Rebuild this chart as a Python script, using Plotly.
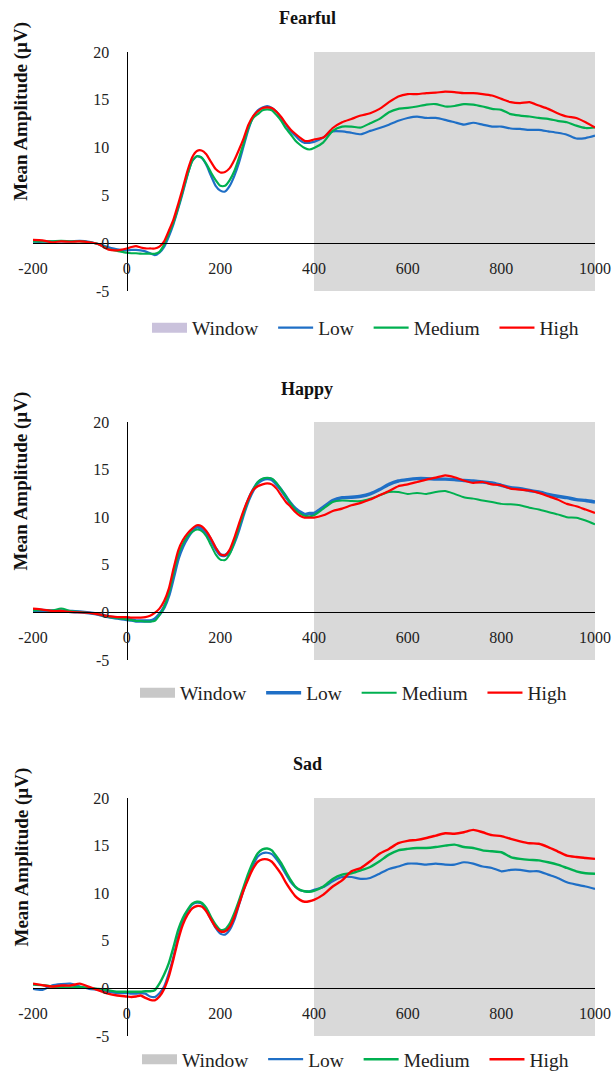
import plotly.graph_objects as go

# ---------------- data ----------------
time_ms = [-200, -180, -160, -140, -120, -100, -80, -60, -40, -20] + list(range(0, 401, 10)) + list(range(420, 1001, 20))

series_names = ["Low", "Medium", "High"]
panel_titles = ["Fearful", "Happy", "Sad"]
x_ticks = [-200, 0, 200, 400, 600, 800, 1000]
x_tick_labels = ["-200", "0", "200", "400", "600", "800", "1000"]
y_ticks = [-5, 0, 5, 10, 15, 20]
y_tick_labels = ["-5", "0", "5", "10", "15", "20"]
window_range = [400, 1000]

fearful_high = [0.35, 0.3, 0.1, 0.2, 0.15, 0.2, 0.1, -0.1, -0.65, -0.75,
                -0.55, -0.4, -0.3, -0.45, -0.55, -0.55, -0.55, -0.35, 0.2, 1.3,
                2.5, 4.1, 5.8, 7.6, 9.0, 9.65, 9.7, 9.3, 8.5, 7.75,
                7.4, 7.45, 7.85, 8.7, 9.8, 11.0, 12.4, 13.3, 13.8, 14.15,
                14.2, 14.15, 13.75, 13.2, 12.5, 11.9, 11.45, 11.05, 10.7, 10.7,
                10.85,
                11.05, 12.05, 12.65, 13.0, 13.35, 13.6, 14.05, 14.75, 15.35, 15.6,
                15.6, 15.7, 15.75, 15.85, 15.8, 15.7, 15.7, 15.6, 15.45, 15.1,
                14.75, 14.65, 14.75, 14.4, 14.05, 13.6, 13.25, 13.1, 12.65, 12.1]
fearful_medium = [0.2, 0.2, 0.2, 0.25, 0.2, 0.2, 0.1, -0.1, -0.6, -0.8,
                  -1.0, -1.05, -1.05, -1.1, -1.1, -1.1, -1.1, -0.9, -0.15, 1.0,
                  2.2, 3.75, 5.5, 7.2, 8.6, 9.1, 8.95, 8.3, 7.4, 6.6,
                  6.0, 6.0, 6.6, 7.55, 8.95, 10.5, 12.1, 13.1, 13.5, 13.9,
                  14.0, 13.9, 13.4, 12.8, 12.0, 11.4, 10.75, 10.3, 9.95, 9.8,
                  9.95,
                  10.55, 11.75, 12.2, 12.2, 12.1, 12.55, 13.0, 13.7, 14.05, 14.15,
                  14.3, 14.5, 14.55, 14.3, 14.35, 14.55, 14.5, 14.3, 14.05, 13.95,
                  13.5, 13.35, 13.25, 13.1, 13.0, 12.8, 12.65, 12.3, 12.05, 12.1]
fearful_low = [0.15, 0.15, 0.2, 0.2, 0.2, 0.25, 0.15, -0.1, -0.4, -0.65,
               -0.75, -0.7, -0.7, -0.75, -0.85, -1.05, -1.25, -1.0, -0.4, 0.7,
               2.0, 3.6, 5.3, 7.15, 8.6, 9.1, 8.95, 8.2, 7.05, 6.0,
               5.5, 5.4, 6.0, 7.05, 8.45, 10.2, 11.9, 13.2, 13.9, 14.2,
               14.35, 14.15, 13.75, 13.1, 12.4, 11.7, 11.25, 10.75, 10.5, 10.5,
               10.6,
               11.05, 11.7, 11.7, 11.55, 11.4, 11.75, 12.05, 12.4, 12.8, 13.1,
               13.25, 13.1, 13.1, 12.9, 12.65, 12.4, 12.6, 12.4, 12.2, 12.2,
               12.0, 11.95, 11.85, 11.85, 11.7, 11.55, 11.35, 10.95, 11.0, 11.25]

happy_high = [0.4, 0.3, 0.15, 0.15, 0.05, 0.0, -0.05, -0.2, -0.4, -0.5,
              -0.5, -0.55, -0.55, -0.55, -0.5, -0.35, -0.05, 0.4, 1.2, 2.5,
              4.6, 6.5, 7.6, 8.3, 8.8, 9.15, 9.05, 8.55, 7.75, 6.8,
              6.1, 6.0, 6.6, 7.85, 9.35, 10.75, 11.95, 12.85, 13.25, 13.45,
              13.55, 13.45, 13.0, 12.3, 11.6, 11.1, 10.55, 10.15, 9.95, 9.95,
              9.95,
              10.2, 10.65, 10.9, 11.25, 11.5, 11.85, 12.3, 12.75, 13.25, 13.45,
              13.7, 13.95, 14.15, 14.4, 14.2, 13.85, 13.6, 13.7, 13.45, 13.35,
              13.0, 12.9, 12.8, 12.55, 12.2, 11.85, 11.4, 11.15, 10.8, 10.45]
happy_medium = [0.2, 0.25, 0.2, 0.4, 0.15, 0.05, -0.05, -0.2, -0.45, -0.6,
                -0.75, -0.8, -0.9, -0.9, -0.95, -0.95, -0.9, -0.3, 0.55, 1.95,
                4.05, 6.0, 7.2, 8.0, 8.45, 8.7, 8.55, 8.0, 7.05, 6.1,
                5.55, 5.5, 6.1, 7.4, 9.0, 10.45, 11.85, 12.9, 13.7, 14.05,
                14.15, 14.05, 13.6, 12.9, 12.2, 11.45, 10.8, 10.4, 10.15, 10.1,
                10.2,
                10.9, 11.6, 11.75, 11.7, 11.7, 11.95, 12.3, 12.65, 12.65, 12.45,
                12.55, 12.45, 12.65, 12.75, 12.45, 12.1, 11.95, 11.75, 11.6, 11.4,
                11.35, 11.25, 11.0, 10.8, 10.55, 10.3, 10.0, 9.95, 9.65, 9.25]
happy_low = [0.2, 0.2, 0.15, 0.15, 0.1, 0.05, -0.05, -0.2, -0.45, -0.6,
             -0.75, -0.8, -0.9, -0.9, -0.9, -0.9, -0.7, -0.2, 0.55, 1.8,
             3.7, 5.65, 6.95, 7.85, 8.55, 9.0, 8.8, 8.35, 7.6, 6.7,
             6.05, 6.0, 6.35, 7.4, 8.8, 10.4, 11.8, 12.85, 13.6, 13.95,
             14.05, 13.95, 13.45, 12.85, 12.15, 11.45, 10.9, 10.55, 10.3, 10.4,
             10.4,
             11.05, 11.75, 12.05, 12.1, 12.2, 12.45, 12.9, 13.45, 13.8, 13.95,
             14.05, 14.05, 14.0, 14.0, 13.95, 13.85, 13.8, 13.7, 13.6, 13.35,
             13.1, 13.0, 12.8, 12.65, 12.4, 12.2, 12.05, 11.85, 11.75, 11.6]

sad_high = [0.5, 0.35, 0.2, 0.3, 0.3, 0.5, 0.15, -0.2, -0.55, -0.75,
            -0.85, -0.9, -0.85, -0.75, -1.0, -1.2, -1.25, -0.85, -0.05, 1.25,
            3.1, 5.1, 6.7, 7.75, 8.4, 8.65, 8.6, 8.1, 7.25, 6.45,
            6.0, 6.0, 6.45, 7.5, 8.9, 10.35, 11.55, 12.6, 13.3, 13.55,
            13.55, 13.3, 12.7, 12.0, 11.1, 10.35, 9.7, 9.3, 9.1, 9.15,
            9.3,
            9.85, 10.7, 11.35, 12.3, 12.65, 13.35, 14.15, 14.65, 15.25, 15.5,
            15.6, 15.8, 16.05, 16.3, 16.25, 16.4, 16.65, 16.4, 16.1, 16.0,
            15.7, 15.45, 15.25, 15.2, 14.85, 14.4, 13.95, 13.8, 13.7, 13.6]
sad_medium = [0.4, 0.35, 0.2, 0.15, 0.1, 0.15, 0.05, -0.05, -0.2, -0.35,
              -0.35, -0.35, -0.35, -0.35, -0.3, -0.3, -0.2, 0.5, 1.45, 2.65,
              4.35, 6.15, 7.4, 8.25, 8.9, 9.1, 9.0, 8.45, 7.5, 6.7,
              6.15, 6.2, 6.8, 7.9, 9.25, 10.7, 12.1, 13.3, 14.2, 14.6,
              14.7, 14.5, 13.85, 13.15, 12.25, 11.4, 10.7, 10.35, 10.2, 10.15,
              10.25,
              10.7, 11.5, 11.95, 12.1, 12.4, 12.75, 13.35, 14.05, 14.5, 14.65,
              14.75, 14.75, 14.85, 15.0, 15.1, 14.85, 14.75, 14.5, 14.4, 14.3,
              13.8, 13.6, 13.5, 13.45, 13.25, 13.0, 12.65, 12.3, 12.1, 12.05]
sad_low = [-0.05, -0.15, 0.3, 0.45, 0.5, 0.2, -0.05, -0.15, -0.35, -0.5,
           -0.5, -0.55, -0.55, -0.5, -0.55, -0.85, -0.9, -0.5, 0.2, 1.6,
           3.35, 5.45, 7.0, 8.1, 8.8, 9.0, 8.9, 8.25, 7.25, 6.35,
           5.75, 5.65, 6.15, 7.2, 8.8, 10.35, 11.75, 12.95, 13.85, 14.2,
           14.25, 14.1, 13.55, 12.85, 12.0, 11.2, 10.65, 10.3, 10.2, 10.2,
           10.35,
           10.65, 11.25, 11.7, 11.7, 11.5, 11.6, 12.05, 12.55, 12.8, 13.1,
           13.1, 13.0, 13.1, 13.0, 13.0, 13.25, 13.1, 12.8, 12.65, 12.3,
           12.45, 12.45, 12.3, 12.3, 11.95, 11.6, 11.15, 10.9, 10.7, 10.45]

panel_series = [
    [fearful_low, fearful_medium, fearful_high],
    [happy_low, happy_medium, happy_high],
    [sad_low, sad_medium, sad_high],
]

# ---------------- styling / layout ----------------
W, H = 612, 1079
FONT = "Liberation Serif, Times New Roman, serif"
line_colors = ["#1f6fc6", "#00b050", "#ff0000"]
window_fill = "#d9d9d9"
window_legend_colors = ["#cac2dc", "#c8c8c8", "#c8c8c8"]
line_widths = [[2.2, 2.2, 2.2], [3.4, 2.0, 2.2], [2.2, 2.4, 2.4]]

px_left, px_right = 33, 595
panel_px = [  # (top, bottom, title_y, legend_y, legend_symbol_left)
    (52, 291, 18, 328, 151),
    (422, 660, 389, 693, 139),
    (798, 1036, 764, None, 141),   # last legend sits on the bottom edge
]

fig = go.Figure()
xd = [px_left / W, px_right / W]

for i, (series, (top, bot, ty, ly, lx)) in enumerate(zip(panel_series, panel_px)):
    n = i + 1
    xa = "x" if n == 1 else f"x{n}"
    ya = "y" if n == 1 else f"y{n}"
    lg = "legend" if n == 1 else f"legend{n}"
    yd = [1 - bot / H, 1 - top / H]

    # legend-only swatch for the window
    fig.add_trace(go.Scatter(x=[None], y=[None], mode="lines", name="Window\u00a0\u00a0",
                             line=dict(color=window_legend_colors[i], width=10),
                             xaxis=xa, yaxis=ya, legend=lg, hoverinfo="skip"))
    for j, (name, vals) in enumerate(zip(series_names, series)):
        fig.add_trace(go.Scatter(x=time_ms, y=vals, mode="lines",
                                 name=name + ("\u00a0\u00a0" if j < 2 else ""),
                                 line=dict(color=line_colors[j], width=line_widths[i][j],
                                           shape="spline", smoothing=0.6),
                                 xaxis=xa, yaxis=ya, legend=lg))

    fig.add_shape(type="rect", xref=xa, yref=ya, x0=window_range[0], x1=window_range[1],
                  y0=y_ticks[0], y1=y_ticks[-1], fillcolor=window_fill, line=dict(width=0),
                  layer="below")

    ypos0 = yd[0] + (0 - y_ticks[0]) / (y_ticks[-1] - y_ticks[0]) * (yd[1] - yd[0])
    xpos0 = xd[0] + (0 - x_ticks[0]) / (x_ticks[-1] - x_ticks[0]) * (xd[1] - xd[0])

    axis_common = dict(showgrid=False, zeroline=False, showline=True, linecolor="black",
                       linewidth=1.3, ticks="outside", tickcolor="rgba(0,0,0,0)",
                       tickfont=dict(family=FONT, size=16, color="#222"), anchor="free",
                       fixedrange=True, automargin=False)
    if ly is None:
        legend_pos = dict(y=0, yanchor="bottom")
    else:
        legend_pos = dict(y=1 - ly / H, yanchor="middle")
    fig.update_layout(**{
        ("xaxis" if n == 1 else f"xaxis{n}"): dict(axis_common, domain=xd,
                                                   range=[x_ticks[0], x_ticks[-1]],
                                                   tickvals=x_ticks, ticktext=x_tick_labels,
                                                   ticklen=10, position=ypos0),
        ("yaxis" if n == 1 else f"yaxis{n}"): dict(axis_common, domain=yd,
                                                   range=[y_ticks[0], y_ticks[-1]],
                                                   tickvals=y_ticks, ticktext=y_tick_labels,
                                                   ticklen=14, position=xpos0),
        lg: dict(orientation="h", x=(lx - 4) / W, xanchor="left", **legend_pos,
                 font=dict(family=FONT, size=19.5, color="#222"),
                 itemwidth=35, bgcolor="rgba(0,0,0,0)", itemclick=False,
                 itemdoubleclick=False),
    })

    fig.add_annotation(text=f"<b>{panel_titles[i]}</b>", xref="paper", yref="paper",
                       x=307 / W, y=1 - ty / H, showarrow=False, xanchor="center",
                       yanchor="middle", font=dict(family=FONT, size=18, color="#111"))
    fig.add_annotation(text="<b>Mean Amplitude (µV)</b>", xref="paper", yref="paper",
                       x=21 / W, y=1 - ((top + (top + bot) / 2) / 2) / H, textangle=-90,
                       showarrow=False, xanchor="center", yanchor="middle",
                       font=dict(family=FONT, size=19, color="#111"))

fig.update_layout(width=W, height=H, margin=dict(l=0, r=0, t=0, b=0),
                  paper_bgcolor="white", plot_bgcolor="rgba(0,0,0,0)", showlegend=True)

page_fix = (
    "document.body.style.margin='0';"
    "document.documentElement.style.overflow='hidden';"
    "document.body.style.overflow='hidden';"
    "document.querySelectorAll('.plotly-graph-div').forEach(function(d){d.style.overflow='hidden';});"
)
fig.write_html("out.html", post_script=page_fix, config={"displayModeBar": False})
